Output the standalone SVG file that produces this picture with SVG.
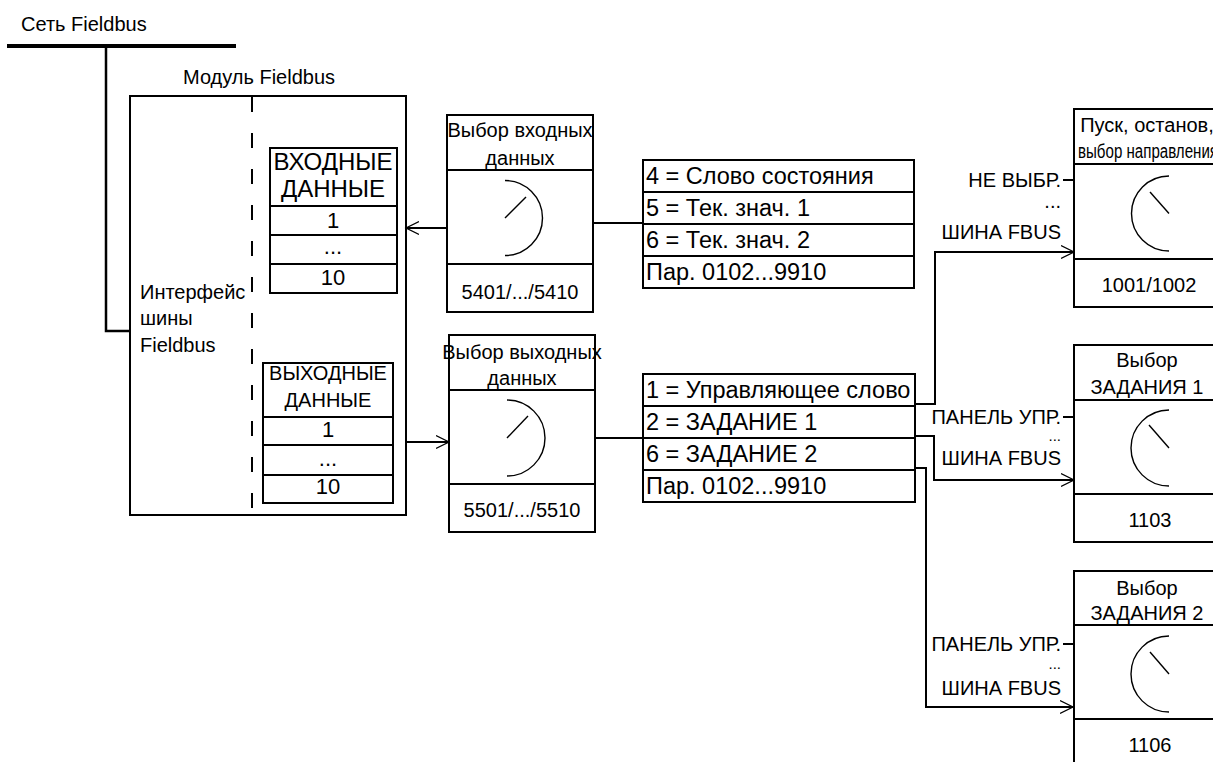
<svg xmlns="http://www.w3.org/2000/svg" width="1213" height="762" viewBox="0 0 1213 762">
<defs>
<style>
.b{fill:#fff;stroke:#000;stroke-width:2}
.l{fill:none;stroke:#000;stroke-width:2}
.dl{fill:none;stroke:#000;stroke-width:1.4}
.w{fill:none;stroke:#000;stroke-width:2}
text{font-family:"Liberation Sans",Arial,sans-serif;font-size:20px;fill:#000}
.m{text-anchor:middle}
.e{text-anchor:end}
.tb{font-size:23.5px}
.hb{font-size:24px}
.nb{font-size:22px}
.dt{font-size:15px}
</style>
<marker id="ah" markerWidth="16" markerHeight="16" refX="13" refY="7" orient="auto" markerUnits="userSpaceOnUse" viewBox="0 0 16 14">
<path d="M0,0.5 L13,7 L0,13.5" fill="none" stroke="#000" stroke-width="1.3"/>
</marker>
</defs>

<g id="connectors">
<line x1="7" y1="46" x2="236" y2="46" stroke="#000" stroke-width="4"/>
<path d="M106,46 V331 H130" fill="none" stroke="#000" stroke-width="2.5"/>
<path class="w" d="M447,228 H406" marker-end="url(#ah)"/>
<path class="w" d="M406,442 H449" marker-end="url(#ah)"/>
<path class="w" d="M593,223 H643"/>
<path class="w" d="M595,438 H643"/>
<path class="w" d="M915,404 H935 V252 H1074" marker-end="url(#ah)"/>
<path class="w" d="M915,436 H934 V480 H1074" marker-end="url(#ah)"/>
<path class="w" d="M915,468 H926 V707 H1073" marker-end="url(#ah)"/>
<path class="w" d="M1063,180 H1074 M1063,417 H1074 M1063,644 H1073"/>
</g>

<g id="network">
<text x="21" y="31" font-size="20.5">Сеть Fieldbus</text>
</g>

<g id="fieldbus-module">
<text x="183" y="84">Модуль Fieldbus</text>
<rect class="l" x="130" y="96" width="276" height="419"/>
<line x1="252" y1="97" x2="252" y2="515" stroke="#000" stroke-width="2" stroke-dasharray="15 21"/>
<text x="140" y="299">Интерфейс</text>
<text x="140" y="325">шины</text>
<text x="140" y="352">Fieldbus</text>
</g>

<g id="input-data">
<rect class="b" x="270" y="148" width="127" height="145"/>
<path class="l" d="M270,206 H397 M270,235 H397 M270,264 H397"/>
<text class="m hb" x="333" y="170">ВХОДНЫЕ</text>
<text class="m hb" x="333" y="197">ДАННЫЕ</text>
<text class="m nb" x="333" y="228">1</text>
<text class="m nb" x="333" y="254">...</text>
<text class="m nb" x="333" y="285">10</text>
</g>

<g id="output-data">
<rect class="b" x="263" y="363" width="130" height="140"/>
<path class="l" d="M263,417 H393 M263,445 H393 M263,475 H393"/>
<text class="m" x="328" y="380">ВЫХОДНЫЕ</text>
<text class="m" x="328" y="407">ДАННЫЕ</text>
<text class="m nb" x="328" y="437">1</text>
<text class="m nb" x="328" y="466">...</text>
<text class="m nb" x="328" y="494">10</text>
</g>

<g id="input-select">
<rect class="b" x="447" y="115" width="146" height="197"/>
<path class="l" d="M447,170 H593 M447,264 H593"/>
<text class="m" x="520" y="137">Выбор входных</text>
<text class="m" x="520" y="165">данных</text>
<path class="dl" d="M505,180.5 A37.5,37.5 0 0 1 505,255.5"/>
<line class="dl" x1="505" y1="218" x2="526" y2="197"/>
<text class="m" x="520" y="299">5401/.../5410</text>
</g>

<g id="output-select">
<rect class="b" x="449" y="335" width="146" height="197"/>
<path class="l" d="M449,390 H595 M449,484 H595"/>
<text class="m" x="522" y="359">Выбор выходных</text>
<text class="m" x="522" y="385">данных</text>
<path class="dl" d="M507,400 A38,38 0 0 1 507,476"/>
<line class="dl" x1="507" y1="438" x2="528" y2="416"/>
<text class="m" x="522" y="517">5501/.../5510</text>
</g>

<g id="status-table">
<rect class="b" x="643" y="160" width="271" height="128"/>
<path class="l" d="M643,192 H914 M643,224 H914 M643,256 H914"/>
<text class="tb" x="646" y="184">4 = Слово состояния</text>
<text class="tb" x="646" y="216">5 = Тек. знач. 1</text>
<text class="tb" x="646" y="248">6 = Тек. знач. 2</text>
<text class="tb" x="646" y="280">Пар. 0102...9910</text>
</g>

<g id="control-table">
<rect class="b" x="643" y="374" width="272" height="128"/>
<path class="l" d="M643,406 H915 M643,438 H915 M643,470 H915"/>
<text class="tb" x="646" y="398">1 = Управляющее слово</text>
<text class="tb" x="646" y="430">2 = ЗАДАНИЕ 1</text>
<text class="tb" x="646" y="462">6 = ЗАДАНИЕ 2</text>
<text class="tb" x="646" y="494">Пар. 0102...9910</text>
</g>

<g id="start-stop-select">
<rect class="b" x="1074" y="109" width="150" height="198"/>
<path class="l" d="M1074,164 H1224 M1074,259 H1224"/>
<text class="m" x="1147" y="132">Пуск, останов,</text>
<text x="1078" y="158" font-size="17" textLength="140" lengthAdjust="spacingAndGlyphs">выбор направления</text>
<path class="dl" d="M1169,176 A37.5,37.5 0 0 0 1169,251"/>
<line class="dl" x1="1169" y1="213.5" x2="1150" y2="192"/>
<text class="m" x="1149" y="292">1001/1002</text>
<text class="e" x="1061" y="187">НЕ ВЫБР.</text>
<text class="e" x="1061" y="208">...</text>
<text class="e" x="1061" y="239">ШИНА FBUS</text>
</g>

<g id="ref1-select">
<rect class="b" x="1074" y="345" width="150" height="197"/>
<path class="l" d="M1074,400 H1224 M1074,494 H1224"/>
<text class="m" x="1147" y="367">Выбор</text>
<text class="m" x="1147" y="394">ЗАДАНИЯ 1</text>
<path class="dl" d="M1169,410 A38,38 0 0 0 1169,486"/>
<line class="dl" x1="1169" y1="448" x2="1149" y2="425"/>
<text class="m" x="1150" y="527">1103</text>
<text class="e" x="1061" y="424">ПАНЕЛЬ УПР.</text>
<text class="e dt" x="1061" y="441">...</text>
<text class="e" x="1061" y="465">ШИНА FBUS</text>
</g>

<g id="ref2-select">
<rect class="b" x="1074" y="571" width="150" height="200"/>
<path class="l" d="M1074,625 H1224 M1074,719 H1224"/>
<text class="m" x="1147" y="595">Выбор</text>
<text class="m" x="1147" y="620">ЗАДАНИЯ 2</text>
<path class="dl" d="M1169,636 A38,38 0 0 0 1169,712"/>
<line class="dl" x1="1169" y1="674" x2="1150" y2="652"/>
<text class="m" x="1150" y="752">1106</text>
<text class="e" x="1061" y="651">ПАНЕЛЬ УПР.</text>
<text class="e dt" x="1061" y="669">...</text>
<text class="e" x="1061" y="695">ШИНА FBUS</text>
</g>
</svg>
